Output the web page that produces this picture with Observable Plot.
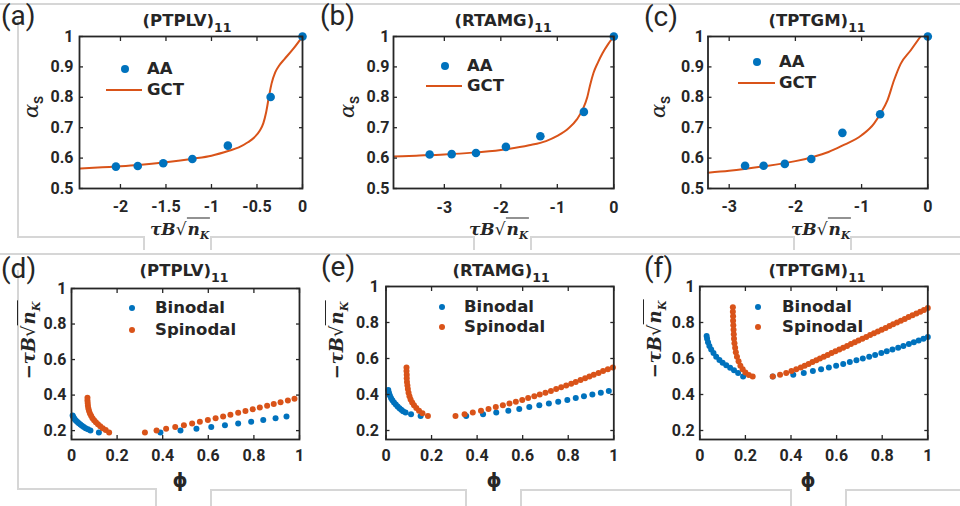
<!DOCTYPE html>
<html><head><meta charset="utf-8">
<script src="https://cdn.jsdelivr.net/npm/d3@7"></script>
<script src="https://cdn.jsdelivr.net/npm/@observablehq/plot@0.6"></script>
<style>
html,body{margin:0;padding:0;background:#fff;}
#fig{position:relative;width:960px;height:506px;overflow:hidden;background:#fff;color:#262626;}
.t{position:absolute;white-space:nowrap;line-height:1;}
.gl{position:absolute;background:#d6d6d6;}
.plot{position:absolute;}
</style>
</head><body>
<div id="fig"></div>
<script>
// ---------------- DATA ----------------
const panelLetters = ["(a)","(b)","(c)","(d)","(e)","(f)"];
const systems = ["PTPLV","RTAMG","TPTGM"];
const subIndex = "11";
const topLegend = ["AA","GCT"];
const bottomLegend = ["Binodal","Spinodal"];

const topYTicks = [0.5,0.6,0.7,0.8,0.9,1];
const xTicks_a = [-2,-1.5,-1,-0.5,0];
const xTicks_b = [-3,-2,-1,0];
const xTicks_c = [-3,-2,-1,0];
const bottomXTicks = [0,0.2,0.4,0.6,0.8,1];
const bottomYTicks = [0.2,0.4,0.6,0.8,1];

// (a) PTPLV
const aaX_a = [-2.05,-1.81,-1.53,-1.21,-0.82,-0.35,0];
const aaY_a = [0.572,0.574,0.583,0.597,0.641,0.801,1.0];
const gctX_a = [-2.45,-2.2,-2.0,-1.8,-1.5,-1.2,-1.0,-0.8,-0.7,-0.6,-0.53,-0.47,-0.43,-0.4,-0.37,-0.34,-0.3,-0.26,-0.2,-0.1,0];
const gctY_a = [0.566,0.570,0.573,0.577,0.586,0.598,0.608,0.625,0.635,0.652,0.668,0.69,0.715,0.75,0.80,0.845,0.882,0.903,0.925,0.96,1.0];
// (b) RTAMG
const aaX_b = [-3.26,-2.87,-2.44,-1.91,-1.30,-0.53,0];
const aaY_b = [0.612,0.613,0.617,0.637,0.672,0.752,1.0];
const gctX_b = [-3.9,-3.5,-3.0,-2.5,-2.0,-1.5,-1.2,-1.0,-0.8,-0.65,-0.55,-0.47,-0.42,-0.36,-0.28,-0.2,-0.1,0];
const gctY_b = [0.605,0.608,0.612,0.618,0.627,0.642,0.656,0.673,0.698,0.728,0.76,0.80,0.84,0.88,0.915,0.945,0.975,1.0];
// (c) TPTGM
const aaX_c = [-2.76,-2.48,-2.16,-1.76,-1.29,-0.72,0];
const aaY_c = [0.575,0.575,0.581,0.597,0.683,0.744,1.0];
const gctX_c = [-3.32,-3.0,-2.5,-2.0,-1.75,-1.5,-1.3,-1.0,-0.81,-0.72,-0.61,-0.51,-0.41,-0.26,-0.11];
const gctY_c = [0.552,0.558,0.572,0.59,0.603,0.62,0.64,0.675,0.714,0.745,0.79,0.856,0.91,0.954,1.0];

// (d) PTPLV phase diagram
const binLX_d = [0.005,0.008,0.011,0.015,0.020,0.026,0.032,0.039,0.046,0.054,0.062,0.072,0.083,0.12];
const binLY_d = [0.285,0.277,0.270,0.263,0.256,0.249,0.242,0.235,0.228,0.221,0.214,0.207,0.200,0.190];
const binRX_d = [0.390,0.478,0.548,0.613,0.673,0.731,0.788,0.841,0.895,0.943];
const binRY_d = [0.19,0.20,0.21,0.22,0.23,0.24,0.25,0.26,0.27,0.28];
const spiLX_d = [0.070,0.070,0.071,0.072,0.074,0.077,0.081,0.086,0.092,0.099,0.107,0.116,0.126,0.137,0.150,0.165];
const spiLY_d = [0.385,0.37,0.355,0.34,0.325,0.31,0.296,0.283,0.270,0.258,0.247,0.236,0.225,0.214,0.203,0.19];
const spiRX_d = [0.322,0.373,0.415,0.455,0.493,0.529,0.563,0.598,0.632,0.665,0.697,0.731,0.763,0.795,0.826,0.858,0.887,0.917,0.949,0.978];
const spiRY_d = [0.19,0.20,0.21,0.22,0.23,0.24,0.25,0.26,0.27,0.28,0.29,0.30,0.31,0.32,0.33,0.34,0.35,0.36,0.37,0.38];

// (e) RTAMG phase diagram
const binLX_e = [0.010,0.013,0.017,0.022,0.028,0.035,0.043,0.051,0.059,0.067,0.075,0.086,0.11,0.152];
const binLY_e = [0.425,0.41,0.395,0.381,0.368,0.356,0.345,0.334,0.324,0.315,0.307,0.30,0.29,0.28];
const binRX_e = [0.352,0.426,0.484,0.537,0.585,0.629,0.673,0.715,0.756,0.796,0.833,0.869,0.906,0.943,0.978];
const binRY_e = [0.28,0.29,0.30,0.31,0.32,0.33,0.34,0.35,0.36,0.37,0.38,0.39,0.40,0.41,0.42];
const spiLX_e = [0.090,0.090,0.091,0.091,0.092,0.094,0.096,0.099,0.103,0.108,0.115,0.123,0.133,0.145,0.160,0.184];
const spiLY_e = [0.55,0.53,0.51,0.49,0.47,0.45,0.43,0.41,0.39,0.372,0.355,0.34,0.325,0.31,0.296,0.28];
const spiRX_e = [0.305,0.345,0.381,0.417,0.450,0.482,0.513,0.542,0.570,0.598,0.624,0.651,0.675,0.700,0.724,0.747,0.769,0.791,0.813,0.833,0.854,0.874,0.893,0.912,0.933,0.953,0.974,0.996];
const spiRY_e = [0.28,0.29,0.30,0.31,0.32,0.33,0.34,0.35,0.36,0.37,0.38,0.39,0.40,0.41,0.42,0.43,0.44,0.45,0.46,0.47,0.48,0.49,0.50,0.51,0.52,0.53,0.54,0.55];

// (f) TPTGM phase diagram
const binLX_f = [0.030,0.032,0.036,0.042,0.050,0.060,0.072,0.086,0.100,0.116,0.133,0.150,0.168,0.19];
const binLY_f = [0.725,0.71,0.69,0.67,0.65,0.63,0.61,0.592,0.576,0.562,0.548,0.535,0.52,0.50];
const binRX_f = [0.320,0.410,0.456,0.496,0.532,0.566,0.598,0.629,0.658,0.687,0.715,0.743,0.769,0.796,0.820,0.845,0.870,0.893,0.917,0.939,0.960,0.981,1.000];
const binRY_f = [0.50,0.51,0.52,0.53,0.54,0.55,0.56,0.57,0.58,0.59,0.60,0.61,0.62,0.63,0.64,0.65,0.66,0.67,0.68,0.69,0.70,0.71,0.72];
const spiLX_f = [0.145,0.145,0.146,0.146,0.147,0.148,0.149,0.150,0.152,0.155,0.158,0.163,0.170,0.178,0.188,0.20,0.215,0.232];
const spiLY_f = [0.885,0.86,0.835,0.81,0.785,0.76,0.735,0.71,0.685,0.66,0.635,0.61,0.585,0.56,0.54,0.522,0.508,0.50];
const spiRX_f = [0.320,0.352,0.379,0.402,0.423,0.443,0.460,0.477,0.494,0.511,0.527,0.544,0.561,0.578,0.595,0.612,0.629,0.646,0.663,0.680,0.696,0.713,0.730,0.747,0.764,0.781,0.798,0.815,0.832,0.848,0.865,0.882,0.899,0.916,0.933,0.950,0.967,0.983,1.000];
const spiRY_f = [0.50,0.51,0.52,0.53,0.54,0.55,0.56,0.57,0.58,0.59,0.60,0.61,0.62,0.63,0.64,0.65,0.66,0.67,0.68,0.69,0.70,0.71,0.72,0.73,0.74,0.75,0.76,0.77,0.78,0.79,0.80,0.81,0.82,0.83,0.84,0.85,0.86,0.87,0.88];

// ---------------- RENDER ----------------
const BLUE = "#0072BD", ORANGE = "#D95319", INK = "#262626";
const fig = document.getElementById("fig");
const zip = (xs, ys) => xs.map((x, i) => ({x, y: ys[i]}));
const fmt = d => String(d);
const TICKFONT = {fontSize: 16, fontWeight: "bold", fontFamily: "Roboto, sans-serif"};

function makePlot(c, marks) {
  const svg = Plot.plot({
    width: c.w, height: c.h,
    marginLeft: c.ml, marginRight: c.mr, marginTop: c.mt, marginBottom: c.mb,
    x: {domain: c.xd}, y: {domain: c.yd},
    style: {fontFamily: "Roboto, sans-serif", fontSize: "16px", fontWeight: "700", color: INK, background: "transparent", overflow: "visible"},
    marks: [
      ...marks,
      Plot.axisX({ticks: c.xt, anchor: "bottom", tickSize: -4, tickPadding: c.xoff + 4, tickFormat: fmt, label: null, strokeWidth: 1.3, ...TICKFONT}),
      Plot.axisX({ticks: c.xt, anchor: "top", tickSize: -4, tickFormat: () => "", label: null, strokeWidth: 1.3}),
      Plot.axisY({ticks: c.yt, anchor: "left", tickSize: -4, tickPadding: c.yoff + 4, tickFormat: fmt, label: null, strokeWidth: 1.3, ...TICKFONT}),
      Plot.axisY({ticks: c.yt, anchor: "right", tickSize: -4, tickFormat: () => "", label: null, strokeWidth: 1.3}),
      Plot.frame({stroke: INK, strokeWidth: 1.8})
    ]
  });
  svg.classList.add("plot");
  svg.style.left = c.left + "px";
  svg.style.top = c.top + "px";
  fig.appendChild(svg);
}

const topCells = [
  {left: 0,   top: 0, w: 320, h: 250, ml: 79,   mr: 18,   mt: 36, mb: 62, xd: [-2.45, 0], xt: xTicks_a, xoff: 12, yoff: 6, aaX: aaX_a, aaY: aaY_a, gX: gctX_a, gY: gctY_a},
  {left: 320, top: 0, w: 320, h: 250, ml: 73,   mr: 26.7, mt: 36, mb: 62, xd: [-3.9, 0],  xt: xTicks_b, xoff: 13, yoff: 4, aaX: aaX_b, aaY: aaY_b, gX: gctX_b, gY: gctY_b},
  {left: 640, top: 0, w: 320, h: 250, ml: 67.5, mr: 32.7, mt: 36, mb: 62, xd: [-3.32, 0], xt: xTicks_c, xoff: 12, yoff: 4, aaX: aaX_c, aaY: aaY_c, gX: gctX_c, gY: gctY_c}
];
topCells.forEach(c => {
  c.yd = [0.5, 1]; c.yt = topYTicks;
  makePlot(c, [
    Plot.line(zip(c.gX, c.gY), {x: "x", y: "y", stroke: ORANGE, strokeWidth: 2, curve: "monotone-x", clip: true}),
    Plot.dot(zip(c.aaX, c.aaY), {x: "x", y: "y", r: 4.3, fill: BLUE, stroke: "none"})
  ]);
});

const bottomCells = [
  {left: 0,   top: 250, w: 320, h: 256, ml: 71,   mr: 21,   mt: 38, mb: 67, yoff: 5, bl: [binLX_d, binLY_d], br: [binRX_d, binRY_d], sl: [spiLX_d, spiLY_d], sr: [spiRX_d, spiRY_d]},
  {left: 320, top: 250, w: 320, h: 256, ml: 65.5, mr: 26.7, mt: 36, mb: 67, yoff: 7, bl: [binLX_e, binLY_e], br: [binRX_e, binRY_e], sl: [spiLX_e, spiLY_e], sr: [spiRX_e, spiRY_e]},
  {left: 640, top: 250, w: 320, h: 256, ml: 59.3, mr: 32.7, mt: 36, mb: 67, yoff: 5, bl: [binLX_f, binLY_f], br: [binRX_f, binRY_f], sl: [spiLX_f, spiLY_f], sr: [spiRX_f, spiRY_f]}
];
bottomCells.forEach(c => {
  c.xd = [0, 1]; c.yd = [0.15, 1]; c.xt = bottomXTicks; c.yt = bottomYTicks; c.xoff = 10;
  const bin = zip(...c.bl).concat(zip(...c.br));
  const spi = zip(...c.sl).concat(zip(...c.sr));
  makePlot(c, [
    Plot.dot(bin, {x: "x", y: "y", r: 3, fill: BLUE, stroke: "none"}),
    Plot.dot(spi, {x: "x", y: "y", r: 3, fill: ORANGE, stroke: "none"})
  ]);
});

// ---------- overlay text ----------
function txt(html, x, baseline, o = {}) {
  const fs = o.fs || 15;
  const d = document.createElement("div");
  d.className = "t";
  d.innerHTML = html;
  d.style.fontSize = fs + "px";
  d.style.fontFamily = o.ff || "'DejaVu Sans', sans-serif";
  d.style.fontWeight = o.fw || "normal";
  if (o.fi) d.style.fontStyle = "italic";
  d.style.color = o.color || INK;
  d.style.left = x + "px";
  if (o.rot) {
    d.style.top = baseline + "px";
    d.style.transform = "translate(-50%,-50%) rotate(-90deg)";
  } else {
    d.style.top = (baseline - 0.845 * fs) + "px";
    if (o.anchor === "middle") d.style.transform = "translateX(-50%)";
    if (o.anchor === "center") { d.style.top = baseline + "px"; d.style.transform = "translate(-50%,-50%)"; }
  }
  fig.appendChild(d);
  return d;
}
function box(cls, x, y, w, h, color, radius) {
  const d = document.createElement("div");
  d.className = cls;
  d.style.position = "absolute";
  d.style.left = x + "px"; d.style.top = y + "px";
  d.style.width = w + "px"; d.style.height = h + "px";
  if (color) d.style.background = color;
  if (radius) d.style.borderRadius = radius;
  fig.appendChild(d);
}

// decorative gray frame lines
[[0,3,960,1.5],[17,20,1.5,216],[17,236,126,1.5],[143,236,1.5,14],[210,236,1.5,14],[210,236,263,1.5],[473,236,1.5,14],[530,236,1.5,14],[530,236,263,1.5],[793,236,1.5,14],[850,236,1.5,14],[850,236,110,1.5],
 [0,253,960,1.5],[17,270,1.5,218],[17,488,138,1.5],[155,488,1.5,18],[210,489,1.5,17],[210,489,255,1.5],[465,489,1.5,17],[520,489,1.5,17],[520,489,270,1.5],[790,489,1.5,17],[845,489,1.5,17],[845,489,115,1.5]
].forEach(([x,y,w,h]) => box("gl", x, y, w, h));

// panel letters
const letterPos = [[1,26],[320,26],[644,27],[1,279],[321,277],[644,278]];
panelLetters.forEach((s, i) => txt(s, letterPos[i][0], letterPos[i][1], {fs: 28, ff: "Roboto, sans-serif"}));

// titles
const titlePos = [[187,27],[503,27],[817,27],[184,277],[501,277],[817,277]];
titlePos.forEach(([x, y], i) => txt(`(${systems[i % 3]})<sub style="font-size:12.5px;vertical-align:-6px;line-height:0">${subIndex}</sub>`, x, y, {fs: 16.5, fw: "bold", anchor: "middle"}));

// axis labels
const tauLabel = (neg) => `${neg ? '<span style="font-family:\'DejaVu Sans\';font-weight:bold">−</span>' : ''}<span style="font-family:'DejaVu Serif';font-style:italic;font-weight:bold">τB</span><span style="font-family:'DejaVu Sans'">√</span><span style="border-top:1.5px solid #262626;font-family:'DejaVu Serif';font-style:italic;font-weight:bold;padding:0 1px">n<sub style="font-size:0.62em;line-height:0">K</sub></span>`;
[[180,229],[499,229],[821,229]].forEach(([x,y]) => txt(tauLabel(false), x, y, {fs: 17, anchor: "center"}));
[[29,340],[337,340],[655,339]].forEach(([x,y]) => txt(tauLabel(true), x, y, {fs: 18, rot: true}));
const alphaLabel = `<span style="font-family:'DejaVu Serif';font-style:italic;font-size:21px">α</span><sub style="font-family:Roboto;font-weight:bold;font-size:13px;line-height:0">S</sub>`;
[[31,107],[347,107],[658,107]].forEach(([x,y]) => txt(alphaLabel, x, y, {fs: 21, rot: true}));
[[180,480],[494,480],[808,480]].forEach(([x,y]) => txt("ϕ", x, y, {fs: 19, fw: "bold", anchor: "center"}));

// legends
const LF = 16.5;
const topLeg = [[125,69,106,142,90,147],[445,66,426,462,86,467],[757,62,738,775,83,779]];
topLeg.forEach(([dx,dy,l1,l2,ly,tx]) => {
  box("", dx - 4.3, dy - 4.3, 8.6, 8.6, BLUE, "50%");
  box("", l1, ly - 1, l2 - l1, 2, ORANGE);
  txt(topLegend[0], tx, dy + 0.365 * LF, {fs: LF, fw: "bold"});
  txt(topLegend[1], tx, ly + 0.365 * LF, {fs: LF, fw: "bold"});
});
const botLeg = [[132,308,330,155],[442,307,327,464],[758,307,327,782]];
botLeg.forEach(([dx,y1,y2,tx]) => {
  box("", dx - 3, y1 - 3, 6, 6, BLUE, "50%");
  box("", dx - 3, y2 - 3, 6, 6, ORANGE, "50%");
  txt(bottomLegend[0], tx, y1 + 0.365 * LF, {fs: LF, fw: "bold"});
  txt(bottomLegend[1], tx, y2 + 0.365 * LF, {fs: LF, fw: "bold"});
});
</script>
</body></html>
